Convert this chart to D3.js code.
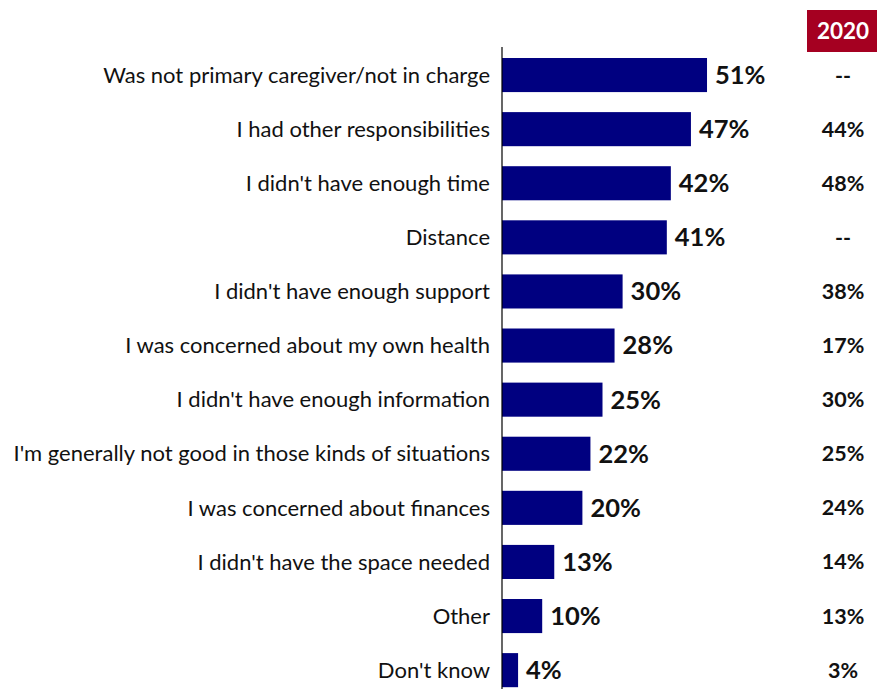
<!DOCTYPE html>
<html>
<head>
<meta charset="utf-8">
<script src="https://cdn.jsdelivr.net/npm/d3@7"></script>
<style>
  body { margin: 0; background: #fff; }
  text { font-family: Lato, "Open Sans", sans-serif; }
</style>
</head>
<body>
<div id="chart"></div>
<script>
// chart data
const reasons = [
  "Was not primary caregiver/not in charge",
  "I had other responsibilities",
  "I didn't have enough time",
  "Distance",
  "I didn't have enough support",
  "I was concerned about my own health",
  "I didn't have enough information",
  "I'm generally not good in those kinds of situations",
  "I was concerned about finances",
  "I didn't have the space needed",
  "Other",
  "Don't know"
]
const values2022 = [51, 47, 42, 41, 30, 28, 25, 22, 20, 13, 10, 4]
const values2020 = ["--", "44%", "48%", "--", "38%", "17%", "30%", "25%", "24%", "14%", "13%", "3%"]
const compareYear = "2020"

const width = 877
const height = 689
const axisX = 502

const svg = d3.select("#chart").append("svg")
    .attr("width", width)
    .attr("height", height)

// scales
const x = d3.scaleLinear()
            .domain([0, 100])
            .range([axisX, axisX + 402])

const y = d3.scaleBand()
            .domain(reasons)
            .range([48, 48 + 54.1 * reasons.length])
            .paddingInner(0.37)
            .paddingOuter(0.185)

// bars
svg.selectAll(".bar")
    .data(reasons)
    .enter()
    .append("rect")
    .attr("class", "bar")
    .attr("x", x(0))
    .attr("y", d => y(d))
    .attr("width", (d, i) => x(values2022[i]) - x(0))
    .attr("height", y.bandwidth())
    .style("fill", "#000080")

// axis line on the left of the bars
svg.append("line")
    .attr("x1", axisX).attr("x2", axisX)
    .attr("y1", 47).attr("y2", height)
    .attr("stroke", "#000")
    .attr("stroke-width", 1.2)

// category labels
svg.selectAll(".cat")
    .data(reasons)
    .enter()
    .append("text")
    .attr("class", "cat")
    .attr("x", axisX - 12)
    .attr("y", d => y(d) + y.bandwidth() / 2)
    .attr("dy", "0.35em")
    .attr("text-anchor", "end")
    .style("font-size", "22px")
    .style("fill", "#111")
    .text(d => d)

// value labels
svg.selectAll(".val")
    .data(reasons)
    .enter()
    .append("text")
    .attr("class", "val")
    .attr("x", (d, i) => x(values2022[i]) + 8)
    .attr("y", d => y(d) + y.bandwidth() / 2)
    .attr("dy", "0.35em")
    .style("font-size", "25.5px")
    .style("font-weight", "bold")
    .style("fill", "#111")
    .text((d, i) => values2022[i] + "%")

// 2020 header
svg.append("rect")
    .attr("x", 807).attr("y", 10)
    .attr("width", 70).attr("height", 42)
    .style("fill", "#a50021")

svg.append("text")
    .attr("x", 843).attr("y", 31)
    .attr("dy", "0.35em")
    .attr("text-anchor", "middle")
    .style("font-size", "22.5px")
    .style("font-weight", "bold")
    .style("fill", "#fff")
    .text(compareYear)

// 2020 values column
svg.selectAll(".prev")
    .data(reasons)
    .enter()
    .append("text")
    .attr("class", "prev")
    .attr("x", 843)
    .attr("y", d => y(d) + y.bandwidth() / 2)
    .attr("dy", "0.35em")
    .attr("text-anchor", "middle")
    .style("font-size", "21.5px")
    .style("font-weight", "bold")
    .style("fill", "#111")
    .text((d, i) => values2020[i])
</script>
</body>
</html>
